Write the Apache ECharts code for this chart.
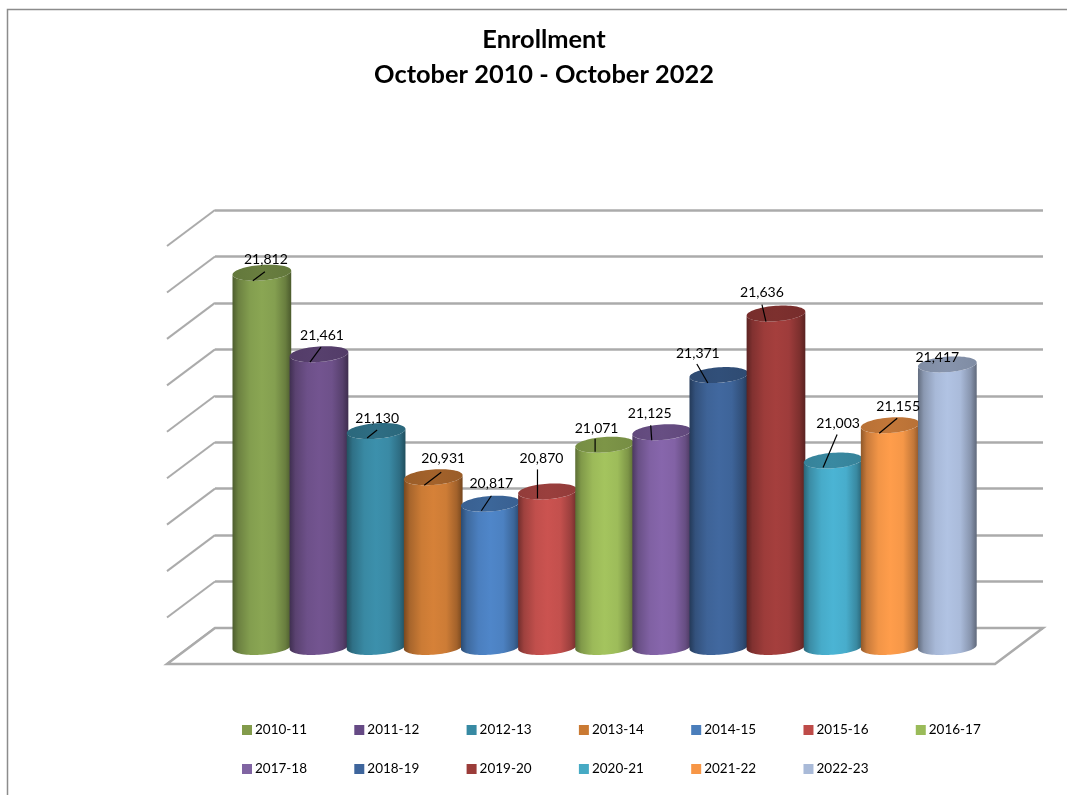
<!DOCTYPE html>
<html>
<head>
<meta charset="utf-8">
<title>Enrollment</title>
<style>html,body{margin:0;padding:0;background:#fff}#chart{width:1067px;height:795px}</style>
<script src="https://cdn.jsdelivr.net/npm/echarts@6/dist/echarts.min.js"></script>
</head>
<body>
<div id="chart"></div>
<script>
// Fall enrollment by academic year
const periods = ['2010-11','2011-12','2012-13','2013-14','2014-15','2015-16','2016-17','2017-18','2018-19','2019-20','2020-21','2021-22','2022-23'];
const enrollment = [21812,21461,21130,20931,20817,20870,21071,21125,21371,21636,21003,21155,21417];
const barColors = ['#8AA653','#735490','#3C90AC','#D68138','#4F86C9','#CB5350','#A4C45E','#8766AC','#41689F','#A53F3D','#4BB4D4','#FF9D4B','#B1C3E3'];
const legendColors = ['#829B4B','#664A85','#378AA3','#CA7A33','#4A7EBB','#BE4B48','#9ABB59','#8064A2','#3E659C','#9B3C39','#46AAC4','#F79646','#A9BAD8'];
const axisMin = 20200, axisMax = 22000, axisStep = 200;
const axisTicks = [20200,20400,20600,20800,21000,21200,21400,21600,21800,22000];

// Label placement relative to the top of each cylinder:
// [label dx, label dy, leader start dx, dy, leader end dx, dy]; null leader = none drawn
const labelPlacement = [
  [4,-13,-9,8,3,-1],[3,-19,-9,8,2,-7],[1,-13,-9,7,1,-1],[10,-19,-9,8,8,-5],
  [1,-20,-9,7,1,-8],[-6,-33,-10,7,-10,-22],[-8,-16,-9.5,7,-9.5,-6],[-12,-19,-10,8,-11,-7],
  [-21,-22,-11,8,-22,-11],[-14,-21,-10,8,-14,-9],[5,-37,-10,7,4,-26],[8,-19,-11,8,7,-7],
  [-10,-7,null,null,null,null]
];

const FONT = 'Lato, "Open Sans", sans-serif';
const DEPTH = [-48, 36];          // back wall to front edge of the floor
const WALL = '#ABABAB';

function shade(hex, k) {
  const n = parseInt(hex.slice(1), 16);
  const ch = s => Math.min(255, Math.round(((n >> s) & 255) * k));
  return 'rgb(' + ch(16) + ',' + ch(8) + ',' + ch(0) + ')';
}

// Oblique circle: a = width axis, (bx, by) = receding axis
function arc(cx, cy, ax, bx, by, from, to, steps) {
  const pts = [];
  for (let i = 0; i <= steps; i++) {
    const t = from + (to - from) * i / steps;
    pts.push([cx + ax * Math.cos(t) + bx * Math.sin(t), cy + by * Math.sin(t)]);
  }
  return pts;
}

function renderCylinder(params, api) {
  const i = api.value(0);
  const v = api.value(1);
  const top = api.coord([i, v]);
  const base = api.coord([i, axisMin]);
  const band = api.size([1, 0])[0];
  const bx = 7.5, by = -8;
  const half = band / 2 + 0.8;
  const ax = Math.sqrt(half * half - bx * bx);
  const t0 = Math.atan2(bx, ax);
  const frontTop = arc(top[0], top[1], ax, bx, by, t0 + Math.PI, t0 + 2 * Math.PI, 40);
  const frontBase = arc(base[0], base[1], ax, bx, by, t0 + Math.PI, t0 + 2 * Math.PI, 40);
  const body = frontTop.concat(frontBase.reverse());
  const cap = arc(top[0], top[1], ax, bx, by, 0, 2 * Math.PI, 72);
  const c = barColors[i];
  const sideFill = new echarts.graphic.LinearGradient(0, 0, 1, 0, [
    {offset: 0, color: shade(c, 0.56)},
    {offset: 0.1, color: shade(c, 0.78)},
    {offset: 0.3, color: shade(c, 0.95)},
    {offset: 0.5, color: shade(c, 1)},
    {offset: 0.72, color: shade(c, 0.96)},
    {offset: 0.9, color: shade(c, 0.76)},
    {offset: 1, color: shade(c, 0.54)}
  ]);
  const capFill = new echarts.graphic.LinearGradient(0, 0, 1, 0, [
    {offset: 0, color: shade(c, 0.72)},
    {offset: 0.5, color: shade(c, 0.76)},
    {offset: 1, color: shade(c, 0.72)}
  ]);
  const children = [
    {type: 'polygon', shape: {points: body}, style: {fill: sideFill}},
    {type: 'polygon', shape: {points: cap}, style: {fill: capFill}}
  ];
  const p = labelPlacement[i];
  if (p[2] !== null) {
    children.push({
      type: 'line',
      shape: {x1: top[0] + p[2], y1: top[1] + p[3], x2: top[0] + p[4], y2: top[1] + p[5]},
      style: {stroke: '#000', lineWidth: 1.2},
      z2: 10
    });
  }
  children.push({
    type: 'text',
    z2: 11,
    style: {
      x: top[0] + p[0], y: top[1] + p[1],
      text: echarts.format.addCommas(v),
      fill: '#000', fontFamily: FONT, fontSize: 14,
      align: 'center', verticalAlign: 'middle'
    }
  });
  return {type: 'group', children: children};
}

// Floor outline and the receding gridlines on the side wall
function renderWalls(params, api) {
  const stroke = {stroke: WALL, lineWidth: 2};
  const children = axisTicks.map(t => {
    const b = api.coord([0, t]);
    return {type: 'line', shape: {x1: b[0], y1: b[1], x2: b[0] + DEPTH[0], y2: b[1] + DEPTH[1]}, style: stroke};
  });
  const bl = api.coord([0, axisMin]);
  const br = api.coord([1, axisMin]);
  children.push({
    type: 'polygon',
    shape: {points: [bl, br, [br[0] + DEPTH[0], br[1] + DEPTH[1]], [bl[0] + DEPTH[0], bl[1] + DEPTH[1]]]},
    style: {fill: '#fff', stroke: WALL, lineWidth: 2.5}
  });
  return {type: 'group', children: children};
}

const cylinderSeries = periods.map((name, i) => ({
  type: 'custom',
  name: name,
  xAxisIndex: 1,
  yAxisIndex: 1,
  z: 5,
  clip: false,
  itemStyle: {color: legendColors[i]},
  encode: {x: 0, y: 1},
  data: [[i, enrollment[i]]],
  renderItem: renderCylinder
}));

function legendRow(names, top) {
  return {
    data: names,
    left: 242,
    top: top,
    padding: 0,
    orient: 'horizontal',
    itemWidth: 10,
    itemHeight: 10,
    itemGap: 47.3,
    icon: 'rect',
    selectedMode: false,
    textStyle: {fontFamily: FONT, fontSize: 13.5, color: '#000', width: 52, padding: [0, 0, 0, -2]}
  };
}

const chart = echarts.init(document.getElementById('chart'), null, {renderer: 'canvas'});
chart.setOption({
  animation: false,
  backgroundColor: '#fff',
  title: {
    text: 'Enrollment\nOctober 2010 - October 2022',
    left: 539,
    top: 17,
    textAlign: 'center',
    textStyle: {fontFamily: FONT, fontSize: 25.4, fontWeight: 'bold', color: '#000', lineHeight: 35}
  },
  legend: [legendRow(periods.slice(0, 7), 723), legendRow(periods.slice(7), 762)],
  graphic: [{
    type: 'polyline',
    silent: true,
    shape: {points: [[7.5, 795], [7.5, 9.5], [1067, 9.5]]},
    style: {stroke: '#8C8C8C', fill: null, lineWidth: 1.5}
  }],
  grid: [
    {left: 215, right: 24, top: 210, bottom: 167},
    {left: 233.3, right: 91.1, top: 229, bottom: 148}
  ],
  xAxis: [
    {type: 'value', gridIndex: 0, min: 0, max: 1, show: false},
    {type: 'category', gridIndex: 1, data: periods, show: false}
  ],
  yAxis: [
    {
      type: 'value', gridIndex: 0, min: axisMin, max: axisMax, interval: axisStep,
      axisLine: {show: false}, axisTick: {show: false}, axisLabel: {show: false},
      splitLine: {show: true, lineStyle: {color: WALL, width: 2.5}}
    },
    {
      type: 'value', gridIndex: 1, min: axisMin, max: axisMax, interval: axisStep,
      axisLine: {show: false}, axisTick: {show: false}, axisLabel: {show: false},
      splitLine: {show: false}
    }
  ],
  series: [{
    type: 'custom',
    xAxisIndex: 0,
    yAxisIndex: 0,
    z: 1,
    clip: false,
    silent: true,
    data: [[0, axisMin]],
    encode: {x: 0, y: 1},
    renderItem: renderWalls
  }].concat(cylinderSeries)
});
</script>
</body>
</html>
